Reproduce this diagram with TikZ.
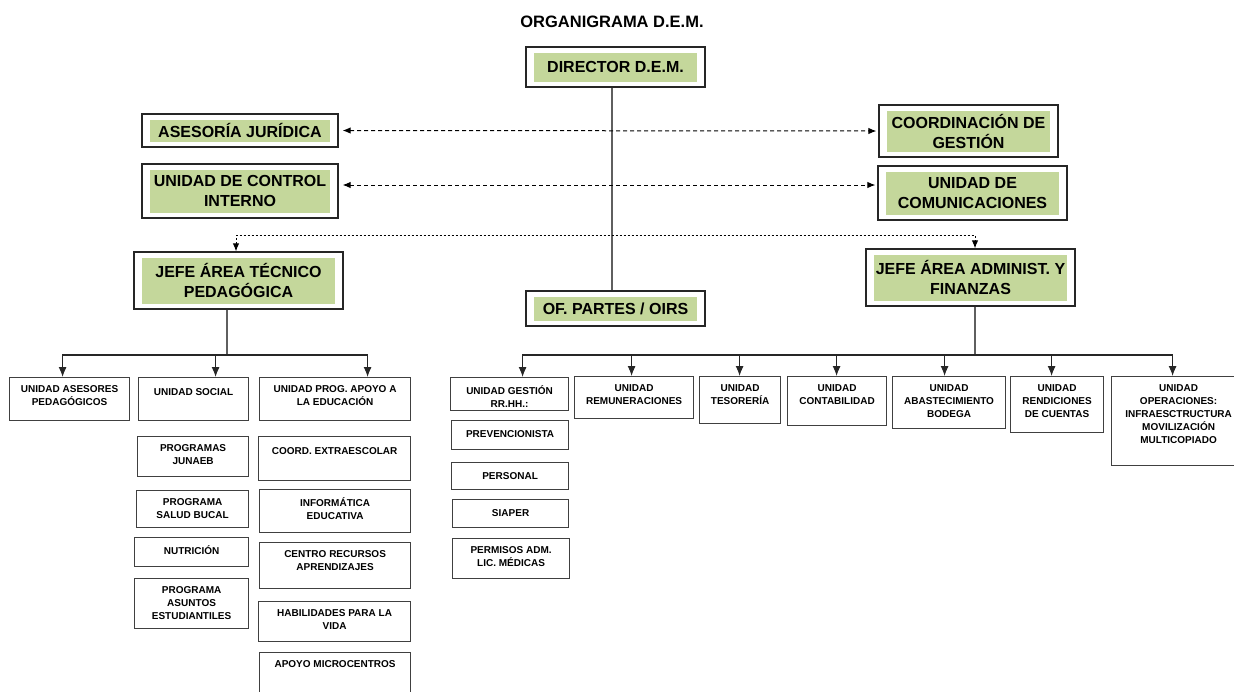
\documentclass[tikz,border=0pt]{standalone}
\usepackage{fontspec}
\setmainfont{Liberation Sans}
\usetikzlibrary{arrows.meta}

\definecolor{gbg}{RGB}{196,215,155}
\definecolor{lgray}{RGB}{95,95,95}

\tikzset{
  headbox/.style={draw=black!85, line width=1.3pt, align=center, inner sep=0pt,
    font=\bfseries\fontsize{16}{20}\selectfont,
    path picture={\fill[gbg] ([shift={(8pt,5.5pt)}]path picture bounding box.south west)
      rectangle ([shift={(-8pt,-5.5pt)}]path picture bounding box.north east);}},
  unitbox/.style={draw=black!75, line width=1.2pt, anchor=north west, inner sep=0pt},
  unittext/.style={anchor=north, yshift=-8pt, align=center, inner sep=0pt,
    font=\bfseries\fontsize{10}{13}\selectfont},
  trunk/.style={draw=lgray, line width=1.2pt},
  arr/.style={draw=black!85, line width=1.1pt, -{Latex[length=10pt,width=8pt]}},
  dashlink/.style={line width=1pt, dash pattern=on 4pt off 3pt,
    {Latex[length=8pt,width=6.5pt]}-{Latex[length=8pt,width=6.5pt]}},
  dotlink/.style={line width=1pt, dash pattern=on 2pt off 2pt,
    {Latex[length=8pt,width=6.5pt]}-{Latex[length=8pt,width=6.5pt]}}
}

\begin{document}
\begin{tikzpicture}[x=1pt, y=-1pt]

  \useasboundingbox (0,0) rectangle (1234,691);

  \node[font=\bfseries\fontsize{16.5}{20}\selectfont] (title) at (612,22) {ORGANIGRAMA D.E.M.};

  % top level
  \node[headbox, minimum width=179pt, minimum height=40pt] (dir) at (615.5,67) {DIRECTOR D.E.M.};
  \node[headbox, minimum width=196pt, minimum height=33pt] (aj) at (240,130.5) {ASESORÍA JURÍDICA};
  \node[headbox, minimum width=196pt, minimum height=54pt] (uci) at (240,191) {UNIDAD DE CONTROL\\INTERNO};
  \node[headbox, minimum width=179pt, minimum height=52pt] (cg) at (968.5,131) {COORDINACIÓN DE\\GESTIÓN};
  \node[headbox, minimum width=189pt, minimum height=54pt] (uc) at (972.5,193) {UNIDAD DE\\COMUNICACIONES};
  \node[headbox, minimum width=209pt, minimum height=57pt] (jtp) at (238.5,280.5) {JEFE ÁREA TÉCNICO\\PEDAGÓGICA};
  \node[headbox, minimum width=179pt, minimum height=35pt] (ofp) at (615.5,308.5) {OF. PARTES / OIRS};
  \node[headbox, minimum width=209pt, minimum height=57pt] (jaf) at (970.5,277.5) {JEFE ÁREA ADMINIST. Y\\FINANZAS};

  \draw[trunk] ([xshift=-3.5pt]dir.south) -- ([xshift=-3.5pt]ofp.north);
  \draw[dashlink, shorten <=4pt, shorten >=2pt] (aj.east) -- (cg.west);
  \draw[dashlink, shorten <=4pt, shorten >=2pt] ([yshift=6pt]uci.east) -- ([yshift=8pt]uc.west);
  \draw[dotlink] ([xshift=-2.5pt]jtp.north) -- ++(0,-16) -| ([xshift=4.5pt]jaf.north);

  % area tecnico pedagogica
  \node[unitbox, minimum width=120pt, minimum height=43pt, label={[unittext]north:UNIDAD ASESORES\\PEDAGÓGICOS}] (ase) at (9,377) {};
  \node[unitbox, minimum width=110pt, minimum height=43pt, label={[unittext, yshift=-3pt]north:UNIDAD SOCIAL}] (soc) at (138,377) {};
  \node[unitbox, minimum width=151pt, minimum height=43pt, label={[unittext]north:UNIDAD PROG. APOYO A\\LA EDUCACIÓN}] (prog) at (259,377) {};
  \node[unitbox, minimum width=111pt, minimum height=40pt, label={[unittext]north:PROGRAMAS\\JUNAEB}] (junaeb) at (137,436) {};
  \node[unitbox, minimum width=112pt, minimum height=37pt, label={[unittext]north:PROGRAMA\\SALUD BUCAL}] (bucal) at (136,490) {};
  \node[unitbox, minimum width=114pt, minimum height=29pt, label={[unittext]north:NUTRICIÓN}] (nutri) at (134,537) {};
  \node[unitbox, minimum width=114pt, minimum height=50pt, label={[unittext]north:PROGRAMA\\ASUNTOS\\ESTUDIANTILES}] (asuntos) at (134,578) {};
  \node[unitbox, minimum width=152pt, minimum height=44pt, label={[unittext, yshift=-3pt]north:COORD. EXTRAESCOLAR}] (extra) at (258,436) {};
  \node[unitbox, minimum width=151pt, minimum height=43pt, label={[unittext]north:INFORMÁTICA\\EDUCATIVA}] (info) at (259,489) {};
  \node[unitbox, minimum width=151pt, minimum height=46pt, label={[unittext]north:CENTRO RECURSOS\\APRENDIZAJES}] (cra) at (259,542) {};
  \node[unitbox, minimum width=152pt, minimum height=40pt, label={[unittext]north:HABILIDADES PARA LA\\VIDA}] (hpv) at (258,601) {};
  \node[unitbox, minimum width=151pt, minimum height=50pt, label={[unittext]north:APOYO MICROCENTROS}] (micro) at (259,652) {};

  \coordinate (lbar) at (227,355);
  \draw[trunk] (jtp.south -| lbar) -- (lbar);
  \foreach \n/\s in {ase/-7,soc/22,prog/32.5}
    \draw[arr] (lbar) -| ([xshift=\s]\n.north);

  % area administracion y finanzas
  \node[unitbox, minimum width=118pt, minimum height=33pt, label={[unittext]north:UNIDAD GESTIÓN\\RR.HH.:}] (rrhh) at (450,377) {};
  \node[unitbox, minimum width=119pt, minimum height=42pt, label={[unittext]north:UNIDAD\\REMUNERACIONES}] (remu) at (574,376) {};
  \node[unitbox, minimum width=81pt, minimum height=47pt, label={[unittext]north:UNIDAD\\TESORERÍA}] (teso) at (699,376) {};
  \node[unitbox, minimum width=99pt, minimum height=49pt, label={[unittext]north:UNIDAD\\CONTABILIDAD}] (conta) at (787,376) {};
  \node[unitbox, minimum width=113pt, minimum height=52pt, label={[unittext]north:UNIDAD\\ABASTECIMIENTO\\BODEGA}] (abast) at (892,376) {};
  \node[unitbox, minimum width=93pt, minimum height=56pt, label={[unittext]north:UNIDAD\\RENDICIONES\\DE CUENTAS}] (rend) at (1010,376) {};
  \node[unitbox, minimum width=134pt, minimum height=89pt, label={[unittext]north:UNIDAD\\OPERACIONES:\\INFRAESCTRUCTURA\\MOVILIZACIÓN\\MULTICOPIADO}] (oper) at (1111,376) {};
  \node[unitbox, minimum width=117pt, minimum height=29pt, label={[unittext, yshift=-2pt]north:PREVENCIONISTA}] (prev) at (451,420) {};
  \node[unitbox, minimum width=117pt, minimum height=27pt, label={[unittext, yshift=-2pt]north:PERSONAL}] (pers) at (451,462) {};
  \node[unitbox, minimum width=116pt, minimum height=28pt, label={[unittext, yshift=-2pt]north:SIAPER}] (siaper) at (452,499) {};
  \node[unitbox, minimum width=117pt, minimum height=40pt, label={[unittext]north:PERMISOS ADM.\\LIC. MÉDICAS}] (permisos) at (452,538) {};

  \coordinate (rbar) at (975,355);
  \draw[trunk] (jaf.south -| rbar) -- (rbar);
  \foreach \n/\s in {rrhh/13,remu/-2.5,teso/-0.5,conta/-0.5,abast/-4.5,rend/-5.5,oper/-6}
    \draw[arr] (rbar) -| ([xshift=\s]\n.north);

\end{tikzpicture}
\end{document}
